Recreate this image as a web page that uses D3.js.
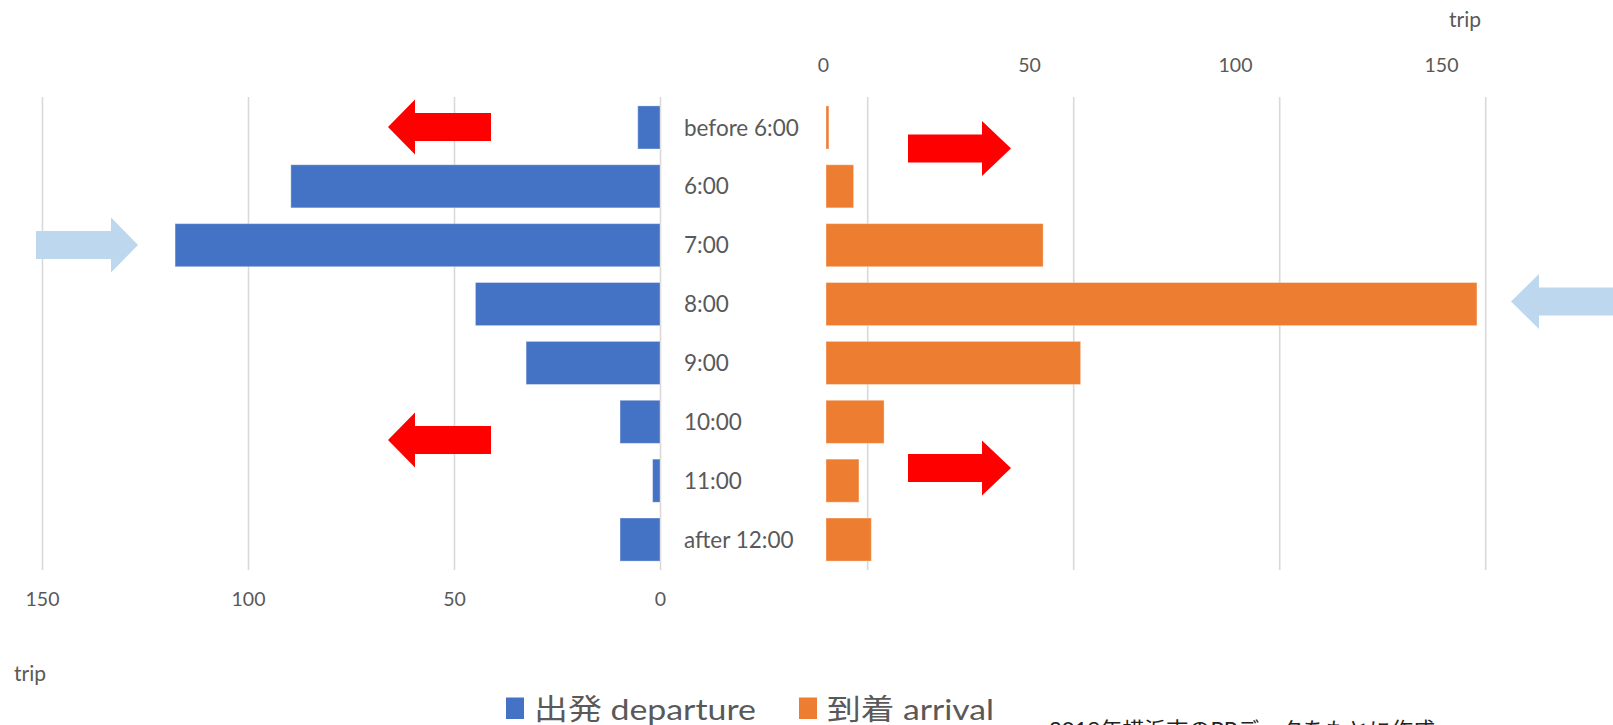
<!DOCTYPE html>
<html>
<head>
<meta charset="utf-8">
<script src="https://cdn.jsdelivr.net/npm/d3@7"></script>
<style>
  html, body { margin: 0; padding: 0; background: #fff; overflow: hidden; }
  svg { display: block; }
  text { font-family: Lato, "Noto Sans CJK JP", sans-serif; }
</style>
</head>
<body>
<svg id="chart" width="1613" height="725"></svg>
<script>
// Trips by departure / arrival hour
const categories = ["before 6:00", "6:00", "7:00", "8:00", "9:00", "10:00", "11:00", "after 12:00"];
const departure = [5.4, 89.6, 117.7, 44.8, 32.5, 9.7, 1.8, 9.7];
const arrival   = [0.7, 6.7, 52.7, 158, 61.8, 14.1, 8.0, 11.0];
const tickValues = [0, 50, 100, 150];
const arrivalGridValues = [10, 60, 110, 160];
const seriesNames = ["出発 departure", "到着 arrival"];
const unitLabel = "trip";
const sourceNote = "2019年横浜市のPPデータをもとに作成";

const BLUE = "#4472C4", ORANGE = "#ED7D31", GRID = "#d9d9d9", TEXT = "#595959";

const svg = d3.select("#chart");

// departure runs leftwards from the centre, arrival rightwards
const xL = d3.scaleLinear().domain([0, 150]).range([660, 42]);
const xR = d3.scaleLinear().domain([0, 150]).range([826, 1444]);
const y = d3.scaleBand().domain(categories).range([98, 569]).paddingInner(0.268).paddingOuter(0.134);

const gridTop = 97, gridBottom = 570;

// gridlines
const gl = svg.append("g")
  .attr("transform", `translate(0,${gridTop})`)
  .call(d3.axisBottom(xL).tickValues(tickValues).tickSize(gridBottom - gridTop).tickFormat(""));
const gr = svg.append("g")
  .attr("transform", `translate(0,${gridTop})`)
  .call(d3.axisBottom(xR).tickValues(arrivalGridValues).tickSize(gridBottom - gridTop).tickFormat(""));
[gl, gr].forEach(g => {
  g.select(".domain").remove();
  g.selectAll(".tick line").attr("stroke", GRID).attr("stroke-width", 1.6);
});

// bars
svg.append("g").selectAll("rect").data(categories).join("rect")
  .attr("x", (d, i) => xL(departure[i]))
  .attr("y", d => y(d))
  .attr("width", (d, i) => xL(0) - xL(departure[i]))
  .attr("height", y.bandwidth())
  .attr("fill", BLUE)
  .attr("stroke", "rgba(255,255,255,0.35)").attr("stroke-width", 1);

svg.append("g").selectAll("rect").data(categories).join("rect")
  .attr("x", xR(0))
  .attr("y", d => y(d))
  .attr("width", (d, i) => xR(arrival[i]) - xR(0))
  .attr("height", y.bandwidth())
  .attr("fill", ORANGE)
  .attr("stroke", "rgba(255,255,255,0.35)").attr("stroke-width", 1);

// category labels between the two halves
svg.append("g").selectAll("text").data(categories).join("text")
  .attr("x", 684)
  .attr("y", d => y(d) + y.bandwidth() / 2)
  .attr("dy", "0.36em")
  .attr("fill", TEXT)
  .attr("font-size", 22.5)
  .text(d => d);

// value axes
const axL = svg.append("g")
  .attr("transform", "translate(0,592)")
  .call(d3.axisBottom(xL).tickValues(tickValues).tickSize(0).tickPadding(0));
const axR = svg.append("g")
  .attr("transform", "translate(-3,58)")
  .call(d3.axisBottom(xR).tickValues(tickValues).tickSize(0).tickPadding(0));
[axL, axR].forEach(g => {
  g.select(".domain").remove();
  g.selectAll(".tick text")
    .attr("fill", TEXT)
    .attr("font-size", 19.5)
    .attr("font-family", "Lato, sans-serif");
});

// unit labels
svg.append("text").attr("x", 1465).attr("y", 27).attr("text-anchor", "middle")
  .attr("fill", TEXT).attr("font-size", 21).text(unitLabel);
svg.append("text").attr("x", 14).attr("y", 681)
  .attr("fill", TEXT).attr("font-size", 21).text(unitLabel);

// arrow annotations
function arrowPath(tipX, baseX, endX, cy, headHalf, shaftHalf) {
  return `M${tipX},${cy} L${baseX},${cy - headHalf} L${baseX},${cy - shaftHalf} L${endX},${cy - shaftHalf}` +
         ` L${endX},${cy + shaftHalf} L${baseX},${cy + shaftHalf} L${baseX},${cy + headHalf} Z`;
}
const arrows = [
  { tip: 388, base: 415, end: 491, cy: 127, color: "#FF0000" },
  { tip: 388, base: 415, end: 491, cy: 440, color: "#FF0000" },
  { tip: 1011, base: 982, end: 908, cy: 148.5, color: "#FF0000" },
  { tip: 1011, base: 982, end: 908, cy: 468, color: "#FF0000" },
  { tip: 138, base: 111, end: 36, cy: 245, color: "#BDD7EE" },
  { tip: 1511, base: 1539, end: 1620, cy: 301.5, color: "#BDD7EE" }
];
svg.append("g").selectAll("path").data(arrows).join("path")
  .attr("d", a => arrowPath(a.tip, a.base, a.end, a.cy, 27.5, 14))
  .attr("fill", a => a.color);

// legend
const legend = svg.append("g");
const legendItems = [
  { name: seriesNames[0], color: BLUE, x: 506, w: 222 },
  { name: seriesNames[1], color: ORANGE, x: 799, w: 167 }
];
legendItems.forEach(it => {
  legend.append("rect").attr("x", it.x).attr("y", 697.5).attr("width", 18).attr("height", 21.5).attr("fill", it.color);
  legend.append("text").attr("x", it.x + 28).attr("y", 720)
    .attr("fill", TEXT).attr("font-size", 29)
    .attr("textLength", it.w).attr("lengthAdjust", "spacingAndGlyphs")
    .text(it.name);
});

// source note, running off the lower edge
svg.append("text").attr("x", 1049).attr("y", 737)
  .attr("fill", "#222").attr("font-size", 21)
  .attr("font-family", "'Noto Sans CJK JP', sans-serif")
  .attr("textLength", 386).attr("lengthAdjust", "spacingAndGlyphs")
  .text(sourceNote);
</script>
</body>
</html>
